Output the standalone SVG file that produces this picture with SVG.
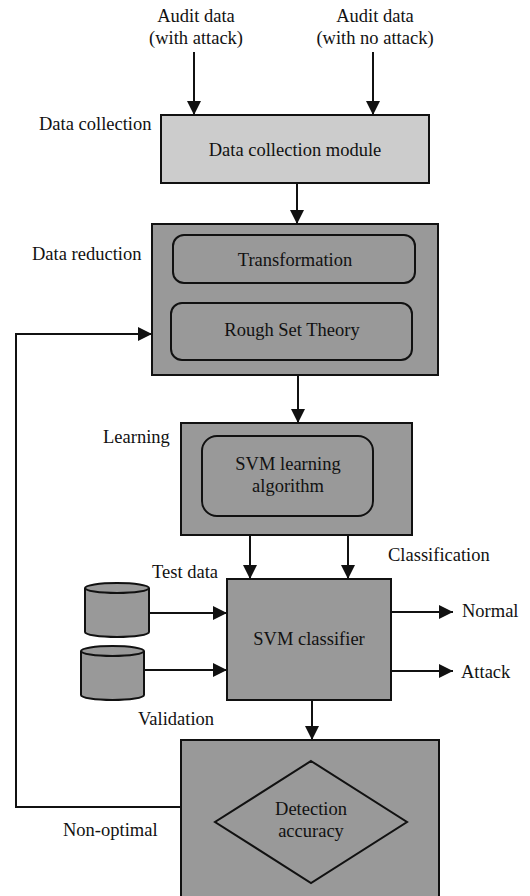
<svg xmlns="http://www.w3.org/2000/svg" width="530" height="896" viewBox="0 0 530 896">
<defs>
<style>
text{font-family:"Liberation Serif","Times New Roman",serif;font-size:18.5px;fill:#111;}
.c{text-anchor:middle;}
.box{fill:#999999;stroke:#111;stroke-width:2;}
.in{fill:#999999;stroke:#111;stroke-width:2;}
.ln{fill:none;stroke:#111;stroke-width:2;}
</style>
<marker id="ah" viewBox="0 0 14 14" refX="14" refY="7" markerWidth="14" markerHeight="14" markerUnits="userSpaceOnUse" orient="auto">
<path d="M0,0 L14,7 L0,14 Z" fill="#111"/>
</marker>
</defs>
<rect width="530" height="896" fill="#fff"/>

<g id="labels">
<text x="196" y="22" class="c">Audit data</text>
<text x="196" y="44" class="c">(with attack)</text>
<text x="375" y="22" class="c">Audit data</text>
<text x="375" y="44" class="c">(with no attack)</text>
<text x="39" y="130">Data collection</text>
<text x="32" y="260">Data reduction</text>
<text x="103" y="443">Learning</text>
<text x="388" y="561">Classification</text>
<text x="152" y="578">Test data</text>
<text x="138" y="725">Validation</text>
<text x="63" y="836">Non-optimal</text>
<text x="462" y="617">Normal</text>
<text x="461" y="678">Attack</text>
</g>

<g id="connectors">
<line class="ln" x1="194" y1="52" x2="194" y2="115" marker-end="url(#ah)"/>
<line class="ln" x1="373" y1="52" x2="373" y2="115" marker-end="url(#ah)"/>
<line class="ln" x1="297" y1="183" x2="297" y2="224" marker-end="url(#ah)"/>
<line class="ln" x1="298" y1="375" x2="298" y2="423" marker-end="url(#ah)"/>
<line class="ln" x1="250" y1="535" x2="250" y2="579" marker-end="url(#ah)"/>
<line class="ln" x1="348" y1="535" x2="348" y2="579" marker-end="url(#ah)"/>
<line class="ln" x1="149" y1="613" x2="227" y2="613" marker-end="url(#ah)"/>
<line class="ln" x1="144" y1="670" x2="227" y2="670" marker-end="url(#ah)"/>
<line class="ln" x1="391" y1="612" x2="453" y2="612" marker-end="url(#ah)"/>
<line class="ln" x1="391" y1="671" x2="453" y2="671" marker-end="url(#ah)"/>
<line class="ln" x1="312" y1="700" x2="312" y2="740" marker-end="url(#ah)"/>
<polyline class="ln" points="181,807 16,807 16,334 152,334" marker-end="url(#ah)"/>
</g>

<g id="data-collection">
<rect x="161" y="115" width="268" height="68" fill="#cccccc" stroke="#111" stroke-width="2"/>
<text x="295" y="156" class="c">Data collection module</text>
</g>

<g id="data-reduction">
<rect class="box" x="152" y="224" width="286" height="151"/>
<g id="transformation">
<rect class="in" x="173" y="235" width="242" height="48" rx="11"/>
<text x="295" y="266" class="c">Transformation</text>
</g>
<g id="rough-set">
<rect class="in" x="171" y="303" width="241" height="57" rx="11"/>
<text x="292" y="336" class="c">Rough Set Theory</text>
</g>
</g>

<g id="learning">
<rect class="box" x="181" y="423" width="231" height="112"/>
<g id="svm-learning">
<rect class="in" x="202" y="436" width="171" height="80" rx="15"/>
<text x="288" y="470" class="c">SVM learning</text>
<text x="288" y="492" class="c">algorithm</text>
</g>
</g>

<g id="test-data">
<path class="in" d="M85,588 L85,632 A32,5 0 0 0 149,632 L149,588"/>
<ellipse class="in" cx="117" cy="588" rx="32" ry="5"/>
</g>

<g id="validation">
<path class="in" d="M81,651 L81,695 A31.5,5 0 0 0 144,695 L144,651"/>
<ellipse class="in" cx="112.5" cy="651" rx="31.5" ry="5"/>
</g>

<g id="svm-classifier">
<rect class="box" x="227" y="579" width="164" height="121"/>
<text x="309" y="645" class="c">SVM classifier</text>
</g>

<g id="detection">
<rect class="box" x="181" y="740" width="258" height="170"/>
<polygon points="311,761 407,822 311,883 215,822" fill="#999999" stroke="#111" stroke-width="2"/>
<text x="311" y="815" class="c">Detection</text>
<text x="311" y="837" class="c">accuracy</text>
</g>
</svg>
